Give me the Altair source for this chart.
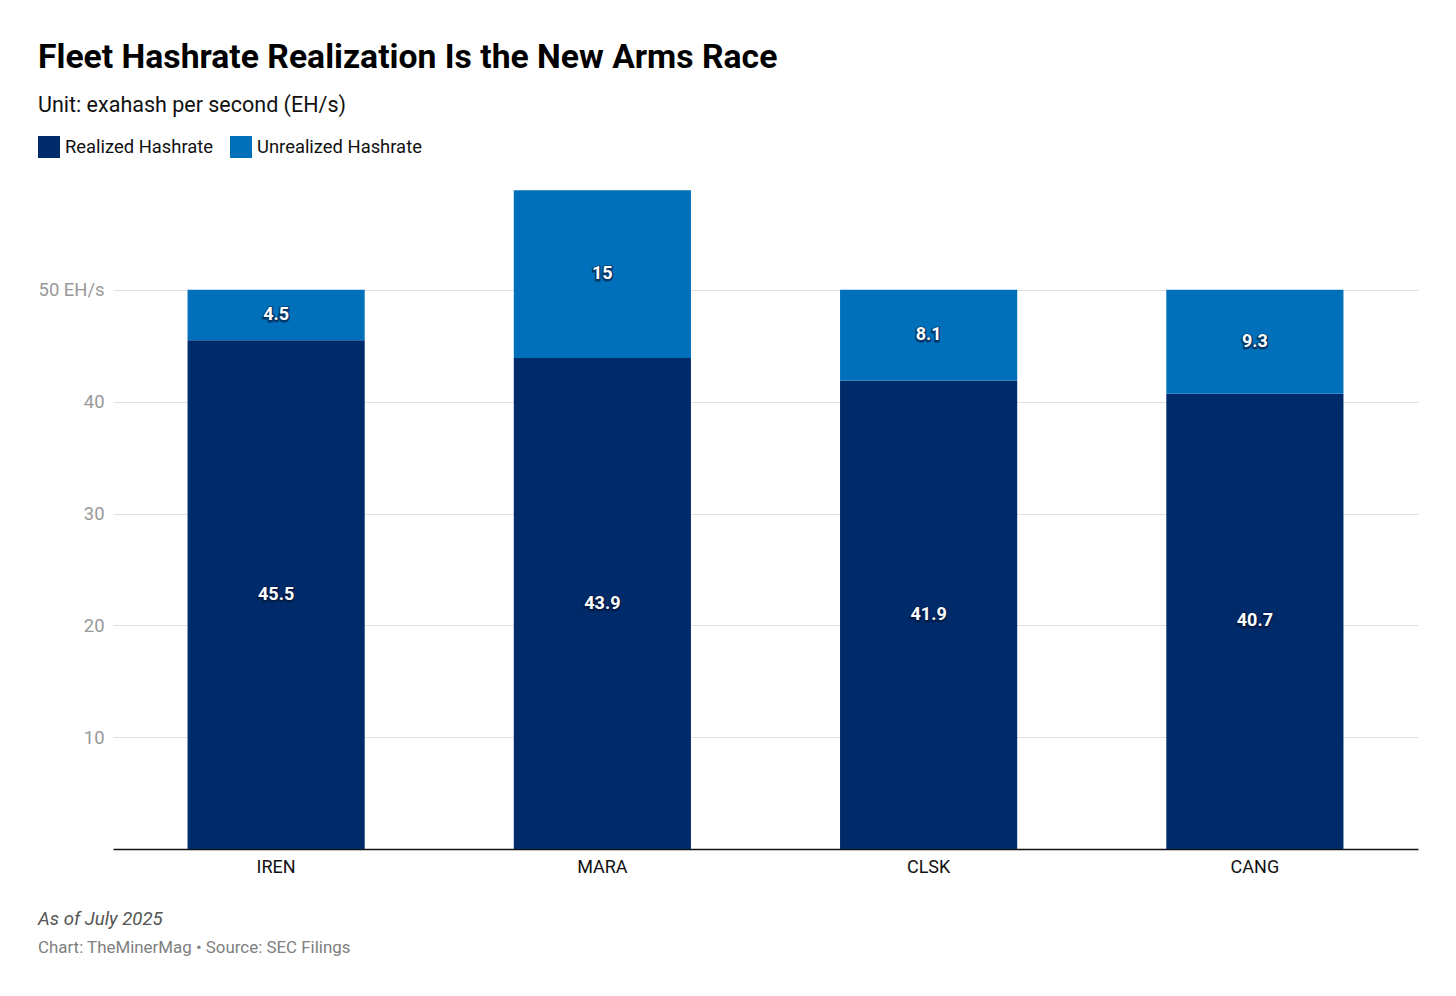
import altair as alt
import pandas as pd

companies = ["IREN", "MARA", "CLSK", "CANG"]
realized = [45.5, 43.9, 41.9, 40.7]
unrealized = [4.5, 15, 8.1, 9.3]
series_names = ["Realized Hashrate", "Unrealized Hashrate"]
series_colors = ["#002B6B", "#0070BB"]
y_ticks = [10, 20, 30, 40, 50]
notes = ["As of July 2025", "Chart: TheMinerMag • Source: SEC Filings"]

rows = []
for c, r, u in zip(companies, realized, unrealized):
    rows.append({"company": c, "series": series_names[0], "value": r, "ord": 0})
    rows.append({"company": c, "series": series_names[1], "value": u, "ord": 1})
df = pd.DataFrame(rows)

FONT = "Roboto"

x_enc = alt.X("company:N", sort=companies, title=None,
              scale=alt.Scale(paddingInner=0.457, paddingOuter=0.2285),
              axis=alt.Axis(labelAngle=0, labelFontSize=18, labelColor="#111111",
                            labelFont=FONT, ticks=False, domainColor="#111111",
                            domainWidth=1.5, labelPadding=9, grid=False))

bars = alt.Chart(df).mark_bar().encode(
    x=x_enc,
    y=alt.Y("value:Q", stack="zero", title=None,
            scale=alt.Scale(domain=[0, 60], nice=False),
            axis=alt.Axis(values=y_ticks, labelFontSize=18.4, labelColor="#999999",
                          labelFont=FONT, ticks=False, domain=False,
                          gridColor="#E0E0E0", gridWidth=1, labelPadding=9,
                          labelExpr="datum.value == 50 ? '50 EH/s' : datum.label")),
    color=alt.Color("series:N", sort=series_names,
                    scale=alt.Scale(domain=series_names, range=series_colors),
                    legend=alt.Legend(orient="none", legendX=-75, legendY=-42,
                                      direction="horizontal", title=None,
                                      symbolType="square", symbolSize=484,
                                      symbolStrokeWidth=0, symbolOpacity=1,
                                      labelFontSize=18.4, labelColor="#111111",
                                      labelFont=FONT, labelOffset=5,
                                      labelLimit=0, columnPadding=16)),
    order=alt.Order("ord:Q"),
)

label_base = alt.Chart(df).transform_stack(
    stack="value", groupby=["company"], as_=["v0", "v1"],
    sort=[alt.SortField("ord", order="ascending")]
).transform_calculate(mid="(datum.v0 + datum.v1) / 2")

shadow = label_base.mark_text(font=FONT, fontSize=18, fontWeight="bold",
                              color="#061535", stroke="#061535", strokeWidth=3,
                              opacity=0.6, dy=1).encode(
    x=alt.X("company:N", sort=companies),
    y=alt.Y("mid:Q"),
    text=alt.Text("value:Q"),
)
labels = label_base.mark_text(font=FONT, fontSize=18, fontWeight="bold",
                              color="white").encode(
    x=alt.X("company:N", sort=companies),
    y=alt.Y("mid:Q"),
    text=alt.Text("value:Q"),
)

notes_df = pd.DataFrame({"text": notes, "i": [0, 1]})
note1 = alt.Chart(notes_df).transform_filter("datum.i == 0").mark_text(
    font=FONT, fontSize=18.6, fontStyle="italic", color="#555555",
    align="left", baseline="alphabetic").encode(
    x=alt.value(-75), y=alt.value(747), text="text:N")
note2 = alt.Chart(notes_df).transform_filter("datum.i == 1").mark_text(
    font=FONT, fontSize=16.9, color="#808080",
    align="left", baseline="alphabetic").encode(
    x=alt.value(-75), y=alt.value(775), text="text:N")

chart = alt.layer(bars, shadow, labels, note1, note2).properties(
    width=1305, height=671,
    autosize=alt.AutoSizeParams(type="none"),
    padding={"left": 105, "top": 170, "right": 30, "bottom": 130},
    title=alt.TitleParams(
        text="Fleet Hashrate Realization Is the New Arms Race",
        subtitle="Unit: exahash per second (EH/s)",
        anchor="start", frame="group", dx=-75, offset=20,
        font=FONT, fontSize=33.7, fontWeight="bold", color="#000000",
        subtitleFont=FONT, subtitleFontSize=21.5, subtitleColor="#111111",
        subtitlePadding=20),
).configure(background="white").configure_view(strokeWidth=0)

chart.save("out.html", embed_options={"renderer": "svg", "actions": False})
